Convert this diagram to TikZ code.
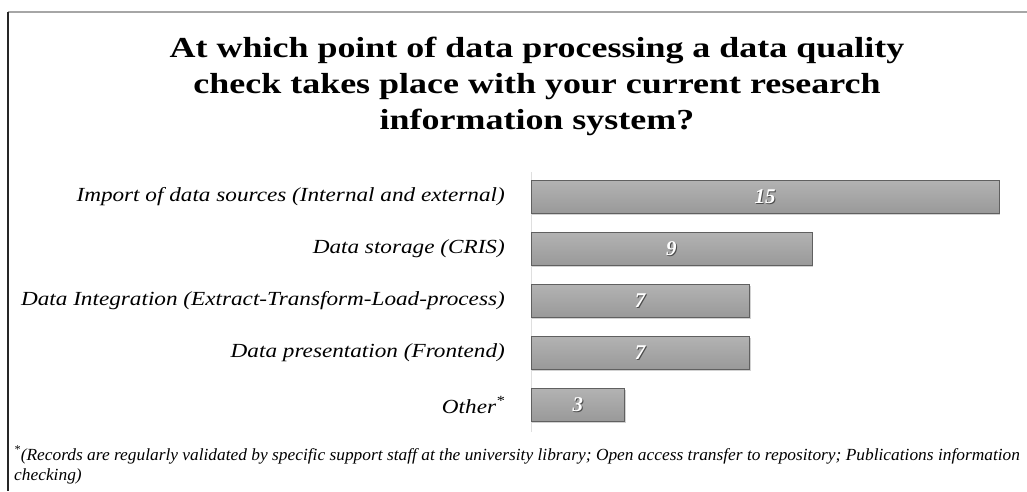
\documentclass[tikz,border=0pt]{standalone}
\usepackage{fontspec}
\setmainfont{Liberation Serif}
\usetikzlibrary{shadows}
\newcommand{\widen}[2]{\scalebox{#1}[1]{#2}}
\begin{document}
\begin{tikzpicture}[x=1pt,y=-1pt,
  bar/.style={draw=gray!75!black, line width=0.4pt, top color=gray!60, bottom color=gray!80, drop shadow={shadow xshift=1.2pt, shadow yshift=-1.5pt, opacity=0.35}},
  lbl/.style={anchor=east, inner sep=0pt, font=\fontsize{20}{22}\selectfont\itshape},
  val/.style={inner sep=0pt, text=white, font=\fontsize{21}{22}\selectfont\bfseries\itshape},
  valsh/.style={inner sep=0pt, text=black!70, font=\fontsize{21}{22}\selectfont\bfseries\itshape},
  ttl/.style={inner sep=0pt, font=\fontsize{29}{37}\selectfont\bfseries}]
\useasboundingbox (0,0) rectangle (1027,491);
\fill[white] (0,0) rectangle (1027,491);
\draw[gray!70, line width=1.5pt] (8,12) -- (1027,12);
\draw[gray!30!black, line width=1.5pt] (8,12) -- (8,491);
\node[ttl] (title) at (537,86) {\widen{1.24}{\begin{tabular}{@{}c@{}}At which point of data processing a data quality\\[-1pt]check takes place with your current research\\[-1pt]information system?\end{tabular}}};
\draw[gray!25, line width=0.8pt] (531,172) coordinate (axtop) -- (531,432) coordinate (axbot);
\foreach \n/\v/\y/\t in {a/15/197/Import of data sources (Internal and external),
                         b/9/249/Data storage (CRIS),
                         c/7/301/Data Integration (Extract-Transform-Load-process),
                         d/7/353/Data presentation (Frontend),
                         e/3/405/Other\textsuperscript{*}}{
  \node[lbl] (l\n) at (505,\y) {\widen{1.16}{\t}};
  \path[bar] (531,\y-16.5) rectangle ({531+31.2*\v},\y+16.5);
  \node[valsh] (s\n) at ({531+15.6*\v+1},\y+1) {\v};
  \node[val] (v\n) at ({531+15.6*\v},\y) {\v};
}
\node[anchor=west, inner sep=0pt, align=left, font=\fontsize{17}{20}\selectfont\itshape] (foot) at (14,466) {\widen{1.022}{\begin{tabular}{@{}l@{}}\textsuperscript{*}(Records are regularly validated by specific support staff at the university library; Open access transfer to repository; Publications information\\checking)\end{tabular}}};
\end{tikzpicture}
\end{document}
